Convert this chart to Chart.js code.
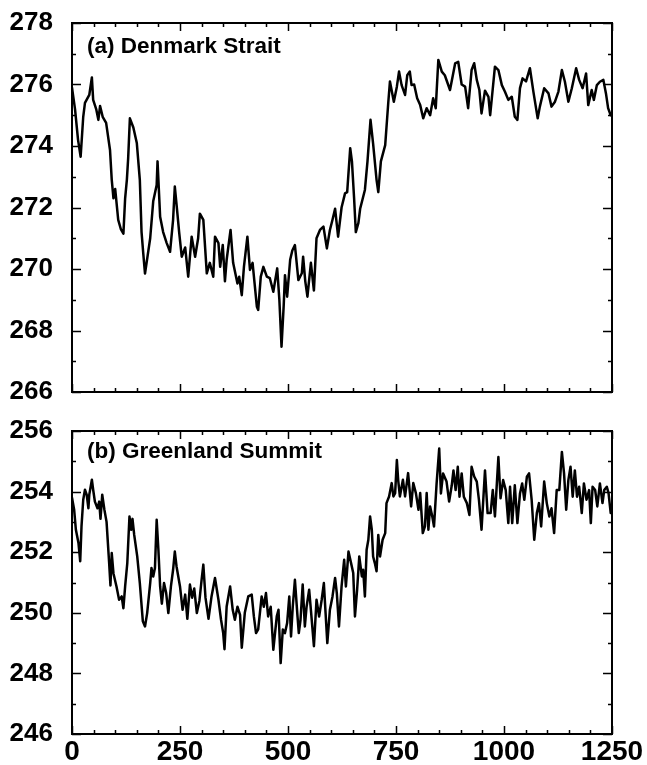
<!DOCTYPE html>
<html>
<head>
<meta charset="utf-8">
<script src="https://cdn.jsdelivr.net/npm/chart.js@4.4.1/dist/chart.umd.min.js"></script>
<style>
    body { margin: 0; background: #fff; }
    #wrap { position: relative; width: 647px; height: 765px; }
    #top-chart { position: absolute; left: 0; top: 0; }
    #bottom-chart { position: absolute; left: 0; top: 412px; }
</style>
</head>
<body>
<div id="wrap">
    <canvas id="top-chart" width="647" height="412"></canvas>
    <canvas id="bottom-chart" width="647" height="353"></canvas>
</div>
<script>
// (a) Denmark Strait
var denmarkYear = [
    0, 7, 14, 20, 26, 30, 40, 46, 49, 56,
    61, 65, 71, 79, 88, 92, 96, 100, 107, 113,
    119, 123, 127, 130, 134, 142, 150, 157, 161, 165,
    169, 181, 188, 196, 198, 204, 211, 219, 227, 234,
    238, 242, 248, 254, 262, 269, 277, 285, 292, 296,
    304, 312, 319, 327, 331, 339, 343, 349, 354, 358,
    367, 373, 383, 387, 393, 398, 406, 412, 418, 428,
    431, 437, 443, 451, 458, 466, 475, 480, 485, 490,
    493, 498, 505, 510, 516, 524, 532, 535, 540, 545,
    553, 560, 566, 574, 582, 590, 597, 603, 609, 616,
    624, 632, 637, 644, 648, 653, 657, 663, 667, 678,
    684, 691, 697, 705, 709, 715, 725, 732, 736, 745,
    752, 757, 763, 771, 776, 782, 786, 792, 799, 806,
    813, 821, 829, 836, 842, 848, 856, 863, 875, 887,
    894, 902, 910, 917, 925, 931, 937, 943, 948, 956,
    964, 968, 979, 987, 995, 1002, 1010, 1018, 1025, 1031,
    1037, 1043, 1051, 1060, 1068, 1078, 1083, 1093, 1103, 1110,
    1118, 1126, 1134, 1141, 1149, 1157, 1167, 1174, 1182, 1190,
    1195, 1203, 1208, 1215, 1222, 1230, 1236, 1241, 1247
];
var denmarkTemp = [
    275.9, 275.2, 274.2, 273.65, 274.95, 275.4, 275.66, 276.23, 275.5, 275.2,
    274.85, 275.3, 274.95, 274.75, 273.87, 272.9, 272.3, 272.6, 271.6, 271.3,
    271.15, 272.3, 272.9, 273.6, 274.9, 274.6, 274.1, 272.9, 271.2, 270.5,
    269.85, 271.0, 272.2, 272.73, 273.5, 271.7, 271.2, 270.85, 270.56, 271.6,
    272.68, 272.1, 271.2, 270.4, 270.7, 269.75, 271.05, 270.4, 271.0, 271.8,
    271.6, 269.86, 270.2, 269.75, 271.05, 270.84, 270.07, 270.78, 269.6, 270.3,
    271.27, 270.2, 269.53, 269.75, 269.15, 270.07, 271.05, 269.97, 270.2, 268.77,
    268.67, 269.75, 270.07, 269.75, 269.7, 269.26, 270.02, 269.0, 267.47, 268.8,
    269.8, 269.1, 270.3, 270.6, 270.78, 269.64, 269.86, 270.4, 269.6, 269.1,
    270.2, 269.3, 271.0, 271.27, 271.38, 270.67, 271.27, 271.6, 271.96, 271.05,
    272.0, 272.46, 272.5, 273.93, 273.5, 272.3, 271.2, 271.5, 271.96, 272.57,
    273.5, 274.85, 274.08, 272.9, 272.5, 273.5, 274.03, 275.39, 276.1, 275.44,
    275.93, 276.42, 275.98, 275.66, 276.3, 276.42, 275.98, 276.0, 275.55, 275.33,
    274.9, 275.23, 275.0, 275.55, 275.23, 276.8, 276.42, 276.3, 275.82, 276.69,
    276.74, 276.0, 275.93, 275.23, 276.47, 276.69, 276.15, 275.82, 275.06, 275.8,
    275.6, 275.0, 276.58, 276.47, 275.98, 275.77, 275.5, 275.6, 274.95, 274.85,
    275.88, 276.2, 276.1, 276.53, 275.77, 274.9, 275.28, 275.88, 275.71, 275.28,
    275.44, 275.77, 276.47, 276.09, 275.44, 275.88, 276.53, 276.15, 275.88, 276.36,
    275.33, 275.82, 275.5, 275.98, 276.09, 276.15, 275.71, 275.23, 275.0
];

// (b) Greenland Summit
var greenlandYear = [
    0, 5, 9, 15, 19, 22, 26, 30, 34, 38,
    40, 46, 49, 53, 59, 63, 66, 70, 75, 80,
    86, 89, 92, 96, 103, 109, 115, 119, 123, 128,
    133, 137, 140, 144, 151, 157, 164, 169, 174, 181,
    184, 188, 192, 196, 200, 204, 208, 213, 218, 223,
    229, 234, 238, 242, 250, 256, 262, 267, 273, 278,
    283, 289, 295, 300, 304, 309, 316, 323, 331, 339,
    345, 350, 353, 358, 366, 372, 377, 383, 389, 393,
    400, 408, 416, 421, 426, 431, 439, 444, 449, 454,
    460, 466, 474, 478, 483, 488, 493, 498, 503, 507,
    511, 516, 522, 525, 529, 534, 539, 543, 549, 553,
    560, 566, 572, 578, 583, 587, 591, 597, 603, 609,
    613, 618, 624, 630, 634, 640, 646, 651, 655, 660,
    665, 671, 674, 678, 682, 686, 690, 694, 697, 701,
    705, 709, 713, 719, 725, 728, 734, 740, 744, 748,
    752, 755, 759, 766, 771, 778, 785, 790, 796, 802,
    806, 812, 817, 821, 825, 829, 834, 838, 844, 850,
    854, 859, 867, 873, 879, 883, 888, 893, 897, 902,
    907, 914, 920, 925, 931, 937, 942, 948, 956, 962,
    969, 974, 979, 987, 992, 998, 1004, 1010, 1014, 1019,
    1025, 1031, 1037, 1042, 1047, 1053, 1058, 1064, 1070, 1076,
    1081, 1086, 1093, 1099, 1105, 1110, 1116, 1122, 1128, 1134,
    1139, 1144, 1149, 1154, 1159, 1164, 1169, 1174, 1180, 1185,
    1191, 1197, 1201, 1205, 1211, 1216, 1222, 1228, 1232, 1238,
    1242, 1247
];
var greenlandTemp = [
    253.8, 253.4, 252.74, 252.3, 251.7, 252.85, 253.73, 254.06, 253.9, 253.45,
    253.9, 254.39, 254.06, 253.67, 253.45, 253.67, 253.1, 253.9, 253.4, 253.0,
    251.64, 250.9, 251.97, 251.3, 250.87, 250.43, 250.54, 250.15, 250.87, 251.64,
    253.18, 252.74, 253.1, 252.57, 251.86, 250.98, 249.72, 249.55, 249.99, 250.98,
    251.48, 251.2, 251.48, 253.07, 252.08, 250.87, 250.3, 250.98, 250.65, 249.99,
    250.87, 251.42, 252.02, 251.53, 250.87, 250.1, 250.6, 249.8, 250.93, 250.5,
    250.8, 249.99, 250.4, 251.09, 251.59, 250.5, 249.8, 250.54, 251.15, 250.43,
    249.77, 249.33, 248.8, 250.21, 250.87, 250.1, 249.77, 250.2, 249.93, 248.85,
    250.0, 250.54, 250.6, 249.88, 249.33, 249.45, 250.54, 250.2, 250.65, 249.88,
    250.2, 248.78, 249.88, 250.1, 248.34, 249.45, 249.33, 249.66, 250.54, 249.22,
    250.2, 251.09, 249.88, 249.33, 249.77, 250.93, 249.55, 250.2, 250.76, 250.1,
    248.9, 250.43, 249.88, 250.43, 250.98, 249.99, 249.0, 250.1, 250.54, 251.15,
    250.65, 249.55, 250.87, 251.75, 250.87, 252.02, 251.64, 251.31, 249.88, 250.76,
    251.86, 251.2, 251.42, 250.54, 252.08, 252.41, 253.18, 252.74, 251.86, 251.64,
    251.37, 252.57, 251.86, 252.41, 252.63, 253.62, 253.84, 254.28, 253.84, 253.95,
    255.04, 254.39, 253.84, 254.39, 253.84, 254.61, 253.51, 254.28, 253.95, 253.4,
    253.95, 252.63, 252.85, 253.95, 252.74, 253.51, 253.18, 252.85, 254.27, 255.42,
    253.94, 254.6, 254.33, 253.67, 254.2, 254.7, 254.05, 254.82, 253.83, 254.6,
    253.83, 253.62, 253.23, 254.82, 254.5, 254.33, 253.73, 252.74, 254.7, 253.29,
    253.29, 254.05, 253.18, 255.14, 253.78, 254.38, 254.05, 252.96, 254.16, 252.96,
    254.21, 252.96, 253.94, 254.27, 253.73, 254.49, 254.6, 253.73, 252.41, 253.29,
    253.62, 252.85, 254.33, 253.62, 253.18, 253.45, 252.63, 254.05, 254.05, 255.31,
    254.6, 253.4, 254.38, 254.82, 253.83, 254.7, 253.83, 254.16, 253.29, 254.27,
    253.73, 254.05, 252.96, 254.16, 254.05, 253.51, 254.27, 253.62, 254.05, 254.16,
    253.95, 253.29
];

var xRange = [0, 1250];
var denmarkRange = [266, 278];
var greenlandRange = [246, 256];

var FONT = '"Liberation Sans", Arial, Helvetica, sans-serif';

function toPoints(xs, ys) {
    var pts = [];
    for (var i = 0; i < xs.length; i++) {
        pts.push({ x: xs[i], y: ys[i] });
    }
    return pts;
}

// no extra room for half-labels, the layout padding already places the box
function noScalePadding(scale) {
    scale.paddingTop = 0;
    scale.paddingBottom = 0;
    scale.paddingLeft = 0;
    scale.paddingRight = 0;
}

// box, inward ticks on all four sides and the panel label
var panelFrame = {
    id: 'panelFrame',
    afterDraw: function (chart, args, opts) {
        var ctx = chart.ctx;
        var a = chart.chartArea;
        var xs = chart.scales.x;
        var ys = chart.scales.y;
        var v, p, len;
        ctx.save();
        ctx.strokeStyle = '#000';
        ctx.lineWidth = 1.5;
        ctx.beginPath();
        for (v = xs.min; v <= xs.max; v += 50) {
            p = Math.round(xs.getPixelForValue(v)) + 0.5;
            len = (v % 250 === 0) ? 8 : 4;
            ctx.moveTo(p, a.bottom); ctx.lineTo(p, a.bottom - len);
            ctx.moveTo(p, a.top); ctx.lineTo(p, a.top + len);
        }
        for (v = ys.min; v <= ys.max; v += 1) {
            p = Math.round(ys.getPixelForValue(v)) + 0.5;
            len = (v % 2 === 0) ? 9 : 4;
            ctx.moveTo(a.left, p); ctx.lineTo(a.left + len, p);
            ctx.moveTo(a.right, p); ctx.lineTo(a.right - len, p);
        }
        ctx.stroke();
        ctx.lineWidth = 2;
        ctx.strokeRect(a.left, a.top, a.right - a.left, a.bottom - a.top);
        ctx.fillStyle = '#000';
        ctx.font = 'bold 22.5px ' + FONT;
        ctx.textBaseline = 'middle';
        ctx.textAlign = 'left';
        ctx.fillText(opts.text, a.left + 15, a.top + opts.textOffset);
        ctx.restore();
    }
};

function makePanel(canvasId, xs, ys, yRange, title, textOffset, pad, showX) {
    return new Chart(document.getElementById(canvasId), {
        type: 'line',
        data: {
            datasets: [{
                data: toPoints(xs, ys),
                borderColor: '#000',
                borderWidth: 2.5,
                borderJoinStyle: 'round',
                borderCapStyle: 'round',
                pointRadius: 0,
                tension: 0,
                fill: false
            }]
        },
        plugins: [panelFrame],
        options: {
            responsive: false,
            animation: false,
            devicePixelRatio: 1,
            layout: { padding: pad },
            plugins: {
                legend: { display: false },
                tooltip: { enabled: false },
                panelFrame: { text: title, textOffset: textOffset }
            },
            scales: {
                x: {
                    type: 'linear',
                    min: xRange[0],
                    max: xRange[1],
                    grid: { display: false, drawTicks: false },
                    border: { display: false },
                    ticks: {
                        display: showX,
                        stepSize: 250,
                        autoSkip: false,
                        maxRotation: 0,
                        padding: 1,
                        color: '#000',
                        font: { family: FONT, size: 28, weight: 'bold' },
                        callback: function (value) {
                            return String(value);
                        }
                    },
                    afterFit: function (scale) {
                        noScalePadding(scale);
                        scale.height = showX ? 31 : 0;
                    }
                },
                y: {
                    min: yRange[0],
                    max: yRange[1],
                    grid: { display: false, drawTicks: false },
                    border: { display: false },
                    ticks: {
                        stepSize: 1,
                        autoSkip: false,
                        padding: 19,
                        color: '#000',
                        font: { family: FONT, size: 26, weight: 'bold' },
                        callback: function (value) {
                            return value % 2 === 0 ? String(value) : '';
                        }
                    },
                    afterFit: function (scale) {
                        noScalePadding(scale);
                        scale.width = 72;
                    }
                }
            }
        }
    });
}

makePanel('top-chart', denmarkYear, denmarkTemp, denmarkRange, '(a) Denmark Strait', 24,
    { top: 23, right: 35, bottom: 20, left: 0 }, false);
makePanel('bottom-chart', greenlandYear, greenlandTemp, greenlandRange, '(b) Greenland Summit', 21,
    { top: 19, right: 35, bottom: 0, left: 0 }, true);
</script>
</body>
</html>
